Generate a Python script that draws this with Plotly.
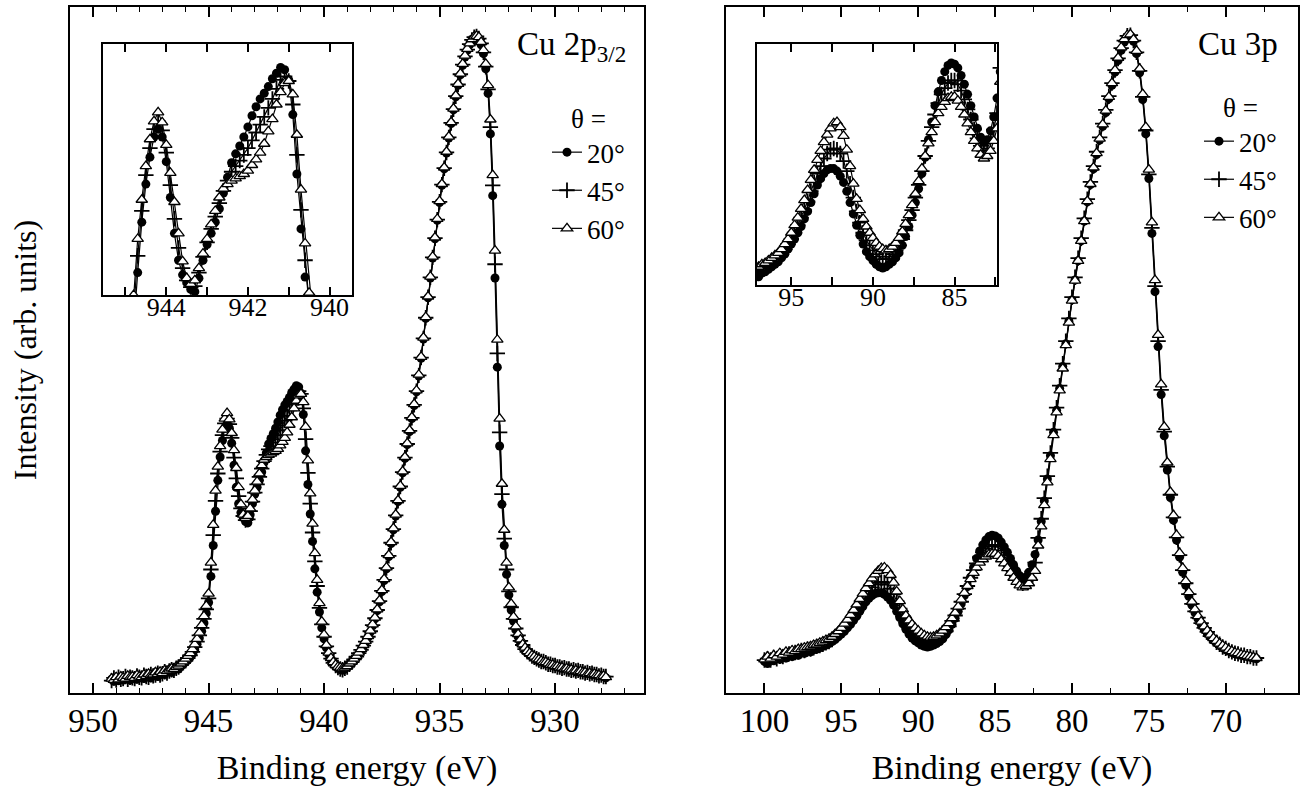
import numpy as np
import plotly.graph_objects as go

# ---------------- data (arbitrary intensity units, 0-100) ----------------
# Cu 2p3/2 spectra: binding energy grid start and step (eV)
cu2p_start = 949.2
cu2p_step = -0.1
cu2p_20 = [2.0,1.7,2.1,1.8,2.2,1.9,2.0,2.3,1.9,2.1, 2.4,2.0,2.2,2.5,2.1,2.3,2.6,2.2,2.5,2.8,
           2.4,2.7,3.0,2.7,3.1,3.3,3.0,3.4,3.7,3.5, 3.9,4.2,4.5,4.8,5.2,5.7,6.3,7.1,8.0,9.0,
           10.2,11.6,
           13.2,17.0,21.5,26.5,31.0,34.4,36.8,38.6,39.3,38.6, 36.4,33.2,30.0,27.6,26.3,25.6,25.0,24.8,26.0,27.6,
           29.0,30.0,31.0,32.2,33.6,35.0,36.3,37.1,37.8,38.6, 39.5,40.5,41.3,42.0,42.5,43.1,43.8,44.3,44.8,44.6,
           43.7,40.6,35.3,30.4,26.1,22.1,18.1,14.7,11.8,9.5, 7.9,6.6,5.6,4.9,4.3,3.9,3.6,3.4,3.3,3.5,
           3.8,
           4.1,4.4,4.8,5.2,5.7,6.2,6.8,7.4,8.1,8.9, 9.8,10.8,12.0,13.3,14.8,16.4,18.1,19.9,21.8,23.8,
           25.8,27.9,30.0,32.1,34.2,36.2,38.1,40.0,41.9,43.9, 46.2,48.8,51.6,54.6,57.6,60.5,63.4,66.2,68.9,71.5,
           74.0,76.4,78.7,80.9,83.0,85.0,86.9,88.6,90.1,91.5, 92.7,93.7,94.5,95.1,95.5,95.6,95.3,94.5,93.2,91.0,
           87.4,81.5,72.5,60.5,47.5,36.0,27.5,21.5,17.3,14.3, 12.1,10.5,9.2,8.2,7.4,6.8,6.3,5.9,5.6,5.3,
           5.1,4.8,4.7,4.6,4.4,4.3,4.3,4.1,4.0,3.9, 3.8,3.8,3.6,3.6,3.5,3.3,3.4,3.3,3.1,3.2,
           3.0,3.1,2.9,2.9,2.8,2.7,2.8,2.6,2.5,2.5, 2.4,2.2]
cu2p_45 = [1.8,2.2,1.9,2.3,2.0,2.1,2.4,2.0,2.3,2.2, 2.1,2.5,2.3,2.2,2.6,2.4,2.3,2.7,2.5,2.6,
           2.9,2.6,2.8,3.1,2.9,3.2,3.4,3.3,3.6,3.8, 4.1,4.4,4.7,5.1,5.5,6.0,6.7,7.5,8.4,9.5,
           10.8,12.2,
           13.8,18.0,23.0,28.0,32.0,35.2,37.6,39.3,40.0,39.2, 37.2,34.3,31.3,28.7,26.9,25.8,25.2,25.3,26.5,27.9,
           29.2,30.4,31.5,32.7,33.8,34.7,35.5,36.0,36.5,37.0, 37.6,38.3,39.0,39.7,40.4,41.2,42.0,42.9,43.7,44.0,
           43.6,41.5,37.0,32.1,27.6,23.4,19.2,15.6,12.4,10.0, 8.2,6.8,5.8,5.0,4.4,4.0,3.7,3.5,3.4,3.6,
           3.8,
           4.2,4.5,4.9,5.3,5.8,6.3,6.9,7.5,8.2,9.0, 9.9,10.9,12.1,13.4,14.9,16.5,18.2,20.0,21.9,23.9,
           25.9,28.0,30.1,32.2,34.3,36.3,38.2,40.1,42.0,44.0, 46.3,48.9,51.7,54.7,57.7,60.6,63.5,66.3,69.0,71.6,
           74.1,76.5,78.8,81.0,83.1,85.1,87.0,88.7,90.2,91.6, 92.8,93.8,94.6,95.2,95.6,95.7,95.4,94.7,93.4,91.3,
           88.0,82.5,74.0,62.5,49.5,38.0,29.0,22.5,18.0,14.8, 12.5,10.8,9.4,8.4,7.6,7.0,6.4,6.0,5.7,5.4,
           5.2,5.0,4.8,4.6,4.6,4.4,4.2,4.2,4.0,4.0, 3.8,3.8,3.6,3.7,3.5,3.5,3.3,3.4,3.2,3.3,
           3.1,3.1,2.9,3.0,2.8,2.9,2.7,2.7,2.5,2.6, 2.4,2.4]
cu2p_60 = [2.1,1.9,2.3,2.0,2.4,2.2,2.1,2.5,2.3,2.4, 2.2,2.6,2.4,2.3,2.7,2.5,2.8,2.6,2.7,3.0,
           2.8,3.1,2.9,3.3,3.2,3.4,3.6,3.5,3.8,4.0, 4.3,4.6,5.0,5.4,5.8,6.4,7.1,7.9,8.8,9.9,
           11.2,12.7,
           14.5,19.0,24.5,29.5,33.0,36.0,38.4,40.0,40.8,39.9, 37.9,35.4,32.8,30.0,27.5,26.0,25.5,25.8,26.9,28.2,
           29.5,30.8,32.0,33.2,34.0,34.4,34.7,34.9,35.1,35.3, 35.6,36.1,36.6,37.2,38.0,39.1,40.2,41.5,42.6,43.4,
           43.6,42.4,38.8,33.9,29.1,24.7,20.4,16.5,13.1,10.4, 8.5,7.0,5.9,5.1,4.5,4.1,3.8,3.7,3.6,3.7,
           3.9,
           4.3,4.6,5.0,5.4,5.9,6.4,7.0,7.6,8.3,9.1, 10.0,11.0,12.2,13.5,15.0,16.6,18.3,20.1,22.0,24.0,
           26.0,28.1,30.2,32.3,34.4,36.4,38.3,40.2,42.1,44.1, 46.4,49.0,51.8,54.8,57.8,60.7,63.6,66.4,69.1,71.7,
           74.2,76.6,78.9,81.1,83.2,85.2,87.1,88.8,90.3,91.7, 92.9,93.9,94.7,95.3,95.7,95.8,95.6,94.9,93.7,91.7,
           88.6,83.6,75.5,64.5,51.5,40.0,30.5,23.8,19.0,15.4, 13.0,11.1,9.7,8.6,7.8,7.1,6.6,6.1,5.8,5.5,
           5.3,5.0,4.9,4.7,4.5,4.5,4.3,4.1,4.1,3.9, 3.9,3.7,3.7,3.5,3.6,3.4,3.4,3.2,3.3,3.1,
           3.2,3.0,3.0,2.8,2.9,2.7,2.8,2.6,2.6,2.4, 2.5,2.3]

# Cu 3p spectra
cu3p_start = 100.0
cu3p_step = -0.2
cu3p_20 = [4.6,4.3,5.0,4.7,5.2,4.9,5.4,5.1,5.6,5.3, 5.7,5.5,5.9,5.8,6.1,6.0,6.3,6.4,6.6,6.8,
           7.0,7.2,7.5,7.8,8.2,8.6,9.0,9.5,10.0,10.6, 11.2,11.9,12.6,13.3,13.8,14.2,14.5,14.6,14.6,14.4,
           14.0,13.5,12.8,11.9,11.0,10.1,9.3,8.6,8.0,7.6, 7.3,7.0,6.8,6.7,6.8,7.0,7.2,7.5,7.9,8.5,
           9.2,10.0,10.9,11.9,13.0,14.2,15.5,16.9,18.3,19.6, 20.7,21.6,22.3,22.8,23.0,22.9,22.6,22.0,21.3,20.5,
           19.6,18.7,17.8,17.1,16.7,16.9,17.6,18.7,20.2,
           22.3,25.0,28.0,31.2,34.6,38.0,41.2,44.4,47.6,50.9, 54.2,57.3,60.2,63.0,65.9,68.8,71.6,74.1,76.4,78.5,
           80.6,82.6,84.6,86.6,88.6,90.5,92.2,93.7,94.9,95.6, 95.8,95.0,93.2,90.4,86.5,81.5,75.0,67.0,58.5,50.5,
           43.5,37.5,32.5,28.5,25.2,22.3,19.8,17.6,15.7,14.1, 12.8,11.7,10.8,10.0,9.3,8.7,8.2,7.7,7.3,6.9,
           6.6,6.3,6.1,5.9,5.7,5.6,5.5,5.4,5.3,5.2, 5.1,5.0]
cu3p_45 = [4.8,5.0,4.8,5.2,5.0,5.4,5.3,5.6,5.7,5.8, 5.9,6.0,6.2,6.2,6.4,6.4,6.6,6.8,6.9,7.1,
           7.3,7.5,7.8,8.2,8.6,9.0,9.5,10.1,10.7,11.3, 12.0,12.8,13.5,14.2,14.8,15.4,15.8,16.1,16.2,16.1,
           15.8,15.2,14.4,13.4,12.3,11.2,10.3,9.5,8.9,8.5, 8.1,7.8,7.6,7.4,7.4,7.6,7.8,8.1,8.5,9.0,
           9.7,10.5,11.3,12.3,13.3,14.4,15.6,16.8,17.9,18.9, 19.8,20.5,21.0,21.4,21.6,21.6,21.3,20.8,20.1,19.3,
           18.5,17.7,17.0,16.4,16.0,16.2,16.8,17.7,19.0,
           22.6,25.4,28.4,31.6,35.0,38.4,41.6,44.8,48.0,51.3, 54.6,57.7,60.6,63.4,66.3,69.2,72.0,74.5,76.8,78.9,
           81.0,83.0,85.0,87.0,88.9,90.8,92.5,94.0,95.1,95.8, 95.9,95.1,93.4,90.7,86.9,82.0,75.6,67.8,59.3,51.3,
           44.2,38.1,33.0,28.9,25.6,22.7,20.1,17.9,16.0,14.4, 13.0,11.9,11.0,10.2,9.5,8.9,8.3,7.9,7.4,7.1,
           6.7,6.5,6.2,6.0,5.8,5.7,5.5,5.5,5.3,5.3, 5.1,5.1]
cu3p_60 = [4.9,5.3,5.0,5.5,5.3,5.8,5.6,6.0,5.9,6.2, 6.1,6.4,6.4,6.6,6.7,6.8,7.0,7.1,7.3,7.5,
           7.7,7.9,8.2,8.6,9.0,9.5,10.1,10.7,11.4,12.1, 12.9,13.7,14.5,15.3,16.0,16.7,17.3,17.8,18.2,18.3,
           17.9,17.2,16.1,14.8,13.4,12.2,11.3,10.6,10.0,9.5, 9.1,8.7,8.4,8.2,8.1,8.2,8.4,8.7,9.1,9.6,
           10.2,10.9,11.7,12.6,13.6,14.6,15.6,16.6,17.5,18.3, 19.0,19.5,19.9,20.2,20.3,20.3,20.0,19.5,18.9,18.2,
           17.5,16.8,16.2,15.7,15.4,15.6,16.0,16.8,17.8,
           21.5,24.3,27.4,30.7,34.1,37.6,40.9,44.1,47.3,50.7, 54.0,57.2,60.1,63.0,65.9,68.8,71.7,74.2,76.6,78.7,
           80.8,82.9,84.9,86.9,88.9,90.8,92.6,94.1,95.3,95.9, 96.0,95.3,93.6,91.0,87.3,82.5,76.3,68.6,60.2,52.2,
           45.0,38.8,33.6,29.3,25.9,23.0,20.4,18.2,16.3,14.7, 13.3,12.2,11.2,10.4,9.7,9.1,8.5,8.0,7.6,7.2,
           6.9,6.6,6.3,6.1,5.9,5.8,5.6,5.5,5.4,5.3, 5.2,5.1]

angle_labels = ["20°", "45°", "60°"]
cu2p_ticks = [950, 945, 940, 935, 930]
cu3p_ticks = [100, 95, 90, 85, 80, 75, 70]
cu2p_inset_ticks = [944, 942, 940]
cu3p_inset_ticks = [95, 90, 85]


def energies(start, step, n):
    return np.round(start + step * np.arange(n), 2)


SERIF = "Liberation Serif"
W, H = 1301, 801

def px_x(a, b):
    return [a / W, b / W]

def px_y(top, bottom):
    return [1 - bottom / H, 1 - top / H]

styles = [
    dict(symbol="circle", size=9, color="black", line=dict(width=0)),
    dict(symbol="cross-thin", size=11, color="black", line=dict(width=1.8, color="black")),
    dict(symbol="triangle-up", size=10, color="white", line=dict(width=1.3, color="black")),
]

fig = go.Figure()

panels = [
    (cu2p_start, cu2p_step, [cu2p_20, cu2p_45, cu2p_60], "x", "y", "x3", "y3", "legend"),
    (cu3p_start, cu3p_step, [cu3p_20, cu3p_45, cu3p_60], "x2", "y2", "x4", "y4", "legend2"),
]
for start, step, series, xa, ya, xi, yi, lg in panels:
    for name, vals, st in zip(angle_labels, series, styles):
        e = energies(start, step, len(vals))
        fig.add_trace(go.Scatter(
            x=e, y=vals, mode="lines+markers", name=name, legend=lg,
            xaxis=xa, yaxis=ya, line=dict(color="black", width=1.2),
            marker=st, showlegend=True))
    for name, vals, st in zip(angle_labels, series, styles):
        e = energies(start, step, len(vals))
        fig.add_trace(go.Scatter(
            x=e, y=vals, mode="lines+markers", name=name,
            xaxis=xi, yaxis=yi, line=dict(color="black", width=1.2),
            marker=st, showlegend=False))

tickfont = dict(family=SERIF, size=33, color="black")
insetfont = dict(family=SERIF, size=26, color="black")
titlefont = dict(family=SERIF, size=34, color="black")

common_x = dict(showline=True, linecolor="black", linewidth=2, mirror="ticks",
                ticks="inside", ticklen=10, tickwidth=1.5, tickcolor="black",
                showgrid=False, zeroline=False, ticklabelstandoff=-3)
common_y = dict(showline=True, linecolor="black", linewidth=2, mirror=True,
                ticks="", showticklabels=False, showgrid=False, zeroline=False)
inset_x = {**common_x, "ticklen": 8, "ticklabelstandoff": -12}

fig.update_layout(
    width=W, height=H, margin=dict(l=0, r=0, t=0, b=0, autoexpand=False),
    paper_bgcolor="white", plot_bgcolor="white",
    font=dict(family=SERIF, color="black"),
    xaxis=dict(domain=px_x(70, 644), range=[951.0, 926.15], anchor="y",
               tickvals=cu2p_ticks, tickfont=tickfont,
               minor=dict(dtick=1, ticks="inside", ticklen=5, tickwidth=1.2, tickcolor="black"),
               title=dict(text="Binding energy (eV)", font=titlefont, standoff=18),
               **common_x),
    yaxis=dict(domain=px_y(7, 693), range=[0, 100], anchor="x",
               title=dict(text="Intensity (arb. units)", font=dict(family=SERIF, size=32, color="black"),
                          standoff=22),
               **common_y),
    xaxis2=dict(domain=px_x(726, 1298), range=[102.5, 65.3], anchor="y2",
                tickvals=cu3p_ticks, tickfont=tickfont,
                minor=dict(dtick=2.5, ticks="inside", ticklen=5, tickwidth=1.2, tickcolor="black"),
                title=dict(text="Binding energy (eV)", font=titlefont, standoff=18),
                **common_x),
    yaxis2=dict(domain=px_y(7, 693), range=[0, 100], anchor="x2", **common_y),
    xaxis3=dict(domain=px_x(103, 352), range=[945.55, 939.45], anchor="y3",
                tickvals=cu2p_inset_ticks, tickfont=insetfont,
                minor=dict(dtick=1, ticks="inside", ticklen=8, tickwidth=1.5, tickcolor="black"),
                **inset_x),
    yaxis3=dict(domain=px_y(44, 295), range=[24.5, 46.9], anchor="x3", **common_y),
    xaxis4=dict(domain=px_x(757, 997), range=[97.1, 82.4], anchor="y4",
                tickvals=cu3p_inset_ticks, tickfont=insetfont,
                minor=dict(dtick=2.5, ticks="inside", ticklen=8, tickwidth=1.5, tickcolor="black"),
                **inset_x),
    yaxis4=dict(domain=px_y(44, 285), range=[5.35, 24.5], anchor="x4", **common_y),
    legend=dict(x=630 / W, y=1 - 93 / H, xanchor="right", yanchor="top",
                title=dict(text="θ =", side="top center", font=dict(family=SERIF, size=27)),
                font=dict(family=SERIF, size=27, color="black"),
                bgcolor="rgba(0,0,0,0)", itemclick=False, tracegroupgap=0),
    legend2=dict(x=1282 / W, y=1 - 82 / H, xanchor="right", yanchor="top",
                 title=dict(text="θ =", side="top center", font=dict(family=SERIF, size=27)),
                 font=dict(family=SERIF, size=27, color="black"),
                 bgcolor="rgba(0,0,0,0)", itemclick=False, tracegroupgap=0),
    annotations=[
        dict(text="Cu 2p<sub>3/2</sub>", xref="paper", yref="paper", x=628 / W, y=1 - 24 / H,
             xanchor="right", yanchor="top", showarrow=False,
             font=dict(family=SERIF, size=33, color="black")),
        dict(text="Cu 3p", xref="paper", yref="paper", x=1280 / W, y=1 - 24 / H,
             xanchor="right", yanchor="top", showarrow=False,
             font=dict(family=SERIF, size=33, color="black")),
    ],
)

fig.write_html("out.html", config={"displayModeBar": False},
               post_script="document.body.style.margin='0px';document.body.style.overflow='hidden';")
